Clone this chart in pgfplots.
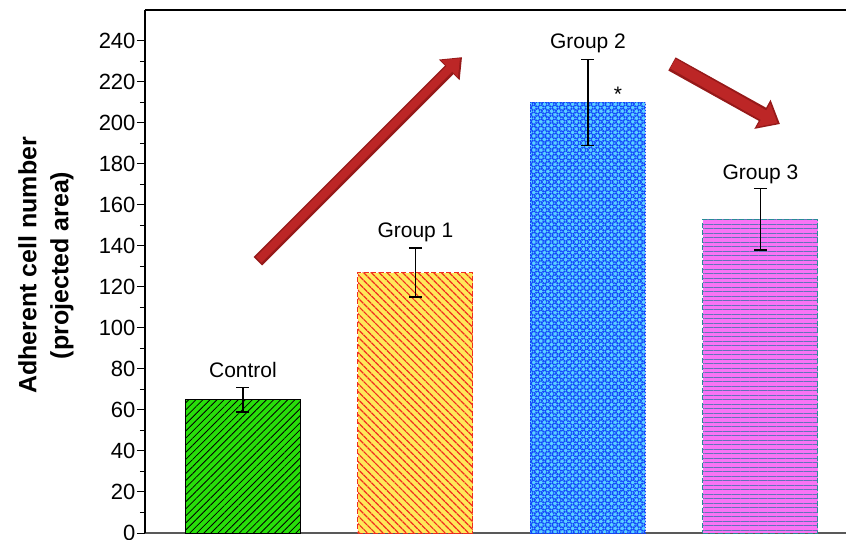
\documentclass[border=0pt]{standalone}
\usepackage{pgfplots}
\pgfplotsset{compat=1.18}
\usepackage{fontspec}
\setmainfont{Liberation Sans}
\usetikzlibrary{patterns.meta, arrows.meta}

\definecolor{cgreen}{RGB}{40,222,10}
\definecolor{cyellow}{RGB}{255,232,90}
\definecolor{cred}{RGB}{240,45,30}
\definecolor{ccyan}{RGB}{90,210,255}
\definecolor{cblue}{RGB}{20,70,250}
\definecolor{cmag}{RGB}{250,115,245}
\definecolor{cline}{RGB}{100,115,185}
\definecolor{cteal}{RGB}{40,140,150}
\definecolor{carrow}{RGB}{188,38,38}
\definecolor{carrowd}{RGB}{150,25,25}

\begin{document}
\begin{tikzpicture}
\begin{axis}[
  scale only axis, width=701pt, height=523pt,
  xmin=-0.568, xmax=3.496, ymin=0, ymax=255,
  axis lines*=left,
  x axis line style={draw=gray!70!black, line width=1.2pt},
  y axis line style={draw=black, line width=1.6pt},
  xtick=\empty,
  ytick={0,20,...,240},
  minor y tick num=1,
  tick align=outside,
  major tick length=8pt, minor tick length=5pt,
  tick style={black, line width=1pt},
  yticklabel style={font=\fontsize{22}{26}\selectfont, xshift=2pt},
  /pgf/number format/assume math mode=true,
  clip=false,
]
% bars
\addplot[ybar, bar width=0.667, draw=black, line width=1pt, fill=cgreen,
  postaction={pattern={Lines[angle=45,distance=5pt,line width=0.8pt]}, pattern color=black}]
  coordinates {(0,65)};
\addplot[ybar, bar width=0.667, draw=cred, line width=1pt, dash pattern=on 5pt off 2.5pt, fill=cyellow,
  postaction={pattern={Lines[angle=-45,distance=5.5pt,line width=1.2pt]}, pattern color=cred}]
  coordinates {(1,127)};
\addplot[ybar, bar width=0.667, draw=cblue, line width=1pt, dash pattern=on 1.5pt off 1.5pt, fill=ccyan,
  postaction={pattern={Lines[angle=45,distance=5pt,line width=1.8pt]}, pattern color=cblue},
  postaction={pattern={Lines[angle=-45,distance=5pt,line width=1.8pt]}, pattern color=cblue}]
  coordinates {(2,210)};
\addplot[ybar, bar width=0.667, draw=cteal, line width=1pt, dash pattern=on 5pt off 2.5pt, fill=cmag,
  postaction={pattern={Lines[angle=0,distance=4.5pt,line width=0.9pt]}, pattern color=cline}]
  coordinates {(3,153)};
% error bars
\addplot[draw=none, mark=none,
  error bars/.cd, y dir=both, y explicit,
  error bar style={draw=black, line width=1.3pt},
  error mark options={rotate=90, mark size=6.5pt, draw=black, line width=1.3pt}]
  coordinates {(0,65) +- (0,6) (1,127) +- (0,12) (2,210) +- (0,21) (3,153) +- (0,15)};
% labels
\node[font=\fontsize{21}{24}\selectfont] at (axis cs:0,79.7) {Control};
\node[font=\fontsize{21}{24}\selectfont] at (axis cs:1,146.6) {Group 1};
\node[font=\fontsize{21}{24}\selectfont] at (axis cs:2,238.5) {Group 2};
\node[font=\fontsize{21}{24}\selectfont] at (axis cs:3,175) {Group 3};
\node[font=\fontsize{21}{24}\selectfont] at (axis cs:2.174,214) {*};
% arrows
\draw[carrowd, line width=12pt, -{Triangle[length=18pt, width=28pt]}]
  (axis cs:0.087,132.5) -- (axis cs:1.27,232);
\draw[carrow, line width=8pt, shorten <=1pt, -{Triangle[length=15pt, width=23pt]}]
  ([yshift=0.8pt]axis cs:0.087,132.5) -- ([xshift=-2pt,yshift=-1pt]axis cs:1.27,232);
\draw[carrowd, line width=15pt, -{Triangle[length=20pt, width=32pt]}]
  (axis cs:2.487,228.7) -- (axis cs:3.113,199.4);
\draw[carrow, line width=11pt, shorten <=1pt, -{Triangle[length=16pt, width=26pt]}]
  ([yshift=0.8pt]axis cs:2.487,228.7) -- ([xshift=-2.5pt,yshift=1pt]axis cs:3.113,199.4);
% top line and y label
\draw[black, line width=1.2pt] (rel axis cs:0,1) -- (rel axis cs:1,1);
\node[rotate=90, align=center, font=\bfseries\fontsize{25}{32}\selectfont, xshift=6pt, yshift=99pt]
  at (rel axis cs:0,0.5) {Adherent cell number\\(projected area)};
\coordinate (bl) at (rel axis cs:0,0);
\coordinate (tr) at (rel axis cs:1,1);
\end{axis}
\pgfresetboundingbox
\path[use as bounding box] ([xshift=-145pt, yshift=-6pt]bl) rectangle ([yshift=10pt]tr);
\end{tikzpicture}
\end{document}
